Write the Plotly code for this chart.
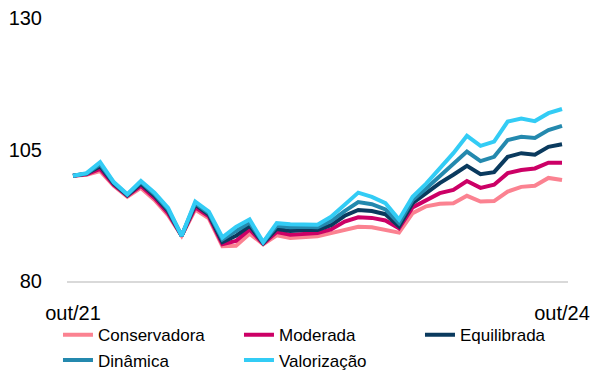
import plotly.graph_objects as go

# Monthly index (base 100 = out/21) for each portfolio profile
month_names = ["jan", "fev", "mar", "abr", "mai", "jun",
               "jul", "ago", "set", "out", "nov", "dez"]
months = []
for k in range(37):
    m = (9 + k) % 12
    y = 21 + (9 + k) // 12
    months.append(f"{month_names[m]}/{y}")

conservadora = [100.0, 100.2, 100.9, 98.1, 96.0, 97.7, 95.4, 92.5, 88.6, 93.6,
                91.9, 86.6, 86.7, 89.0, 87.0, 88.7, 88.2, 88.4, 88.5, 89.1,
                89.7, 90.3, 90.2, 89.7, 89.2, 92.9, 94.2, 94.7, 94.8, 96.2,
                95.1, 95.2, 97.0, 97.9, 98.1, 99.6, 99.2]
moderada = [100.0, 100.3, 101.3, 98.3, 96.2, 98.1, 95.8, 92.9, 88.6, 94.0,
            92.3, 87.0, 87.6, 89.8, 87.1, 89.3, 88.8, 89.0, 89.1, 89.8,
            91.3, 92.1, 92.0, 91.5, 90.0, 94.0, 95.4, 96.7, 97.3, 99.0,
            97.7, 98.3, 100.5, 101.1, 101.4, 102.5, 102.5]
equilibrada = [100.0, 100.4, 101.8, 98.5, 96.3, 98.5, 96.2, 93.3, 88.6, 94.5,
               92.6, 87.4, 88.6, 90.5, 87.2, 89.9, 89.5, 89.7, 89.7, 90.6,
               92.4, 93.5, 93.3, 92.7, 90.4, 94.8, 96.7, 98.6, 100.2, 101.9,
               100.3, 100.7, 103.6, 104.3, 104.0, 105.5, 106.0]
dinamica = [100.0, 100.4, 102.2, 98.7, 96.4, 98.8, 96.5, 93.6, 88.6, 94.8,
            92.9, 87.9, 89.5, 91.1, 87.3, 90.5, 90.2, 90.3, 90.2, 91.4,
            93.3, 95.0, 94.6, 93.6, 91.0, 95.4, 97.6, 99.9, 102.2, 104.6,
            102.8, 103.6, 106.8, 107.4, 107.2, 108.7, 109.5]
valorizacao = [100.0, 100.5, 102.6, 98.8, 96.5, 99.0, 96.8, 93.9, 88.6, 95.1,
               93.2, 88.3, 90.3, 91.7, 87.4, 91.0, 90.8, 90.8, 90.7, 92.2,
               94.4, 96.8, 96.0, 94.8, 91.7, 96.0, 98.5, 101.5, 104.3, 107.6,
               105.7, 106.5, 110.3, 110.9, 110.4, 111.9, 112.7]

series = [
    ("Conservadora", conservadora, "#FB8291"),
    ("Moderada", moderada, "#CC0066"),
    ("Equilibrada", equilibrada, "#0A3A5E"),
    ("Dinâmica", dinamica, "#2489AE"),
    ("Valorização", valorizacao, "#33CCF5"),
]

y_ticks = [80, 105, 130]
x_ticks = ["out/21", "out/24"]

fig = go.Figure()
for name, values, color in series:
    fig.add_trace(go.Scatter(
        x=months, y=values, name=name, mode="lines",
        line=dict(color=color, width=4),
    ))

tick_font = dict(family="Liberation Sans, Arial", size=20, color="#000000")

fig.update_layout(
    width=603, height=371,
    margin=dict(l=67, r=35, t=18, b=90, autoexpand=False),
    paper_bgcolor="white", plot_bgcolor="white",
    showlegend=True,
    legend=dict(
        orientation="h",
        x=-0.018, xanchor="left", y=-0.138, yanchor="top",
        entrywidth=136, entrywidthmode="pixels",
        bgcolor="rgba(0,0,0,0)",
        font=dict(family="Liberation Sans, Arial", size=17, color="#000000"),
        itemwidth=30, tracegroupgap=0,
    ),
    xaxis=dict(
        type="category", range=[-0.44, 36.44],
        tickvals=x_ticks, ticktext=x_ticks,
        showgrid=False, zeroline=False,
        showline=True, linecolor="#D9D9D9", linewidth=2,
        ticks="", tickfont=tick_font, ticklabelstandoff=13,
        automargin=False,
    ),
    yaxis=dict(
        range=[80, 130], tickvals=y_ticks,
        showgrid=False, zeroline=False, showline=False,
        ticks="", tickfont=tick_font, ticklabelstandoff=24,
        automargin=False,
    ),
)

fig.write_html("out.html")
